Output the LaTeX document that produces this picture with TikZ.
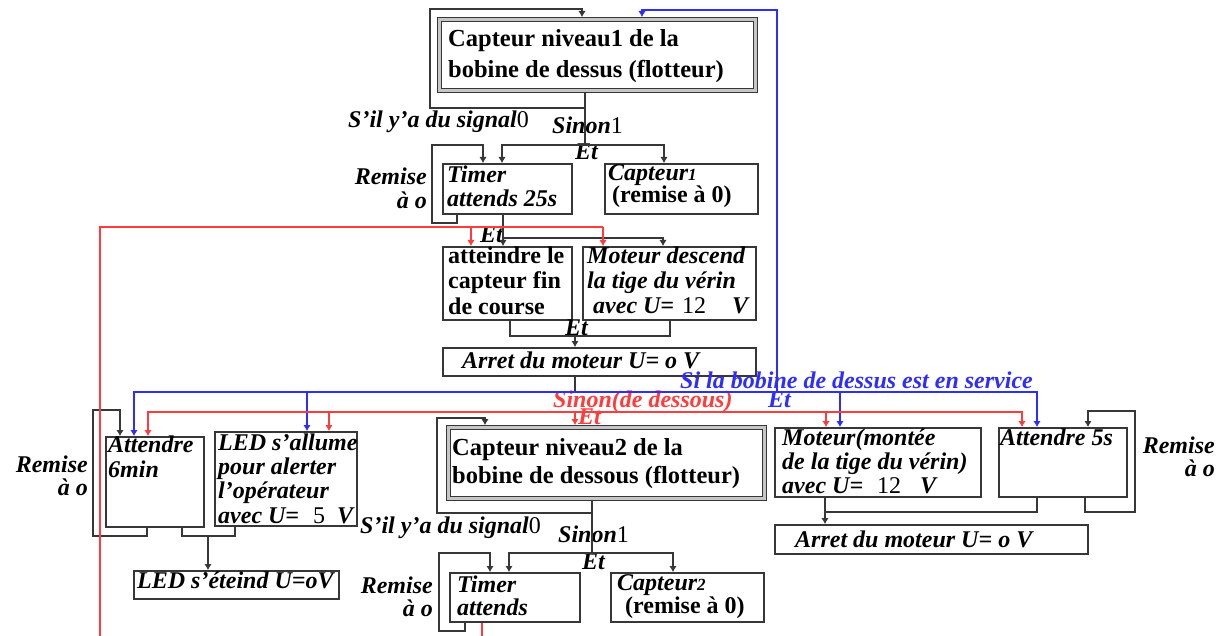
\documentclass[tikz,border=0pt]{standalone}
\usepackage{fontspec}
\setmainfont{Liberation Serif}
\usetikzlibrary{arrows.meta}
\definecolor{wire}{RGB}{55,55,55}
\definecolor{bl}{RGB}{45,45,255}
\definecolor{rd}{RGB}{255,60,60}
% small old-style-like digit and upright number inside italic text
\newcommand\osd[1]{{\fontsize{17}{17}\selectfont #1}}
\newcommand\num[1]{{\mdseries\upshape #1}}
% plain box from (x1,y1) to (x2,y2)
\newcommand\blk[5]{\node[box,minimum width=#4pt-#2pt,minimum height=#5pt-#3pt] (#1) at (#2,#3) {};}
\begin{document}
\begin{tikzpicture}[x=1pt,y=-1pt,
  box/.style={draw=wire,line width=1.8pt,anchor=north west,inner sep=0pt},
  dbox/.style={draw=wire,line width=1.2pt,double=gray!45,double distance=3pt,
    anchor=north west,inner sep=0pt,outer sep=2.7pt,minimum width=315.6pt,minimum height=70.6pt},
  lbl/.style={inner sep=0pt,anchor=base west,align=left},
  itb/.style={lbl,font=\bfseries\itshape\fontsize{24}{25}\selectfont},
  upb/.style={lbl,font=\bfseries\fontsize{24}{25}\selectfont},
  remark/.style={inner sep=0pt,anchor=base east,align=right,font=\bfseries\itshape\fontsize{24}{23.5}\selectfont},
  tip/.style={-{Latex[length=6pt,width=7.5pt]}},
  conn/.style={draw=wire,line width=1.7pt},
  arr/.style={conn,tip},
  bconn/.style={draw=bl,line width=1.7pt},
  barr/.style={bconn,tip},
  rconn/.style={draw=rd,line width=1.7pt},
  rarr/.style={rconn,tip},
]
\useasboundingbox (0,0) rectangle (1223,636);
\fill[white] (0,0) rectangle (1223,636);

% ---------- boxes ----------
\node[dbox] (c1) at (437,17) {};
\blk{t1}{442}{163}{571}{213}
\blk{cap1}{604}{163}{757}{213}
\blk{att}{442}{246}{571}{319}
\blk{mot1}{582}{246}{755}{319}
\blk{arr1}{442}{347}{755}{375}
\blk{a6}{105}{436}{203}{526}
\blk{led}{214}{431}{356}{525}
\node[dbox] (c2) at (446,425) {};
\blk{mot2}{774}{427}{980}{496}
\blk{a5}{998}{427}{1126}{496}
\blk{arr2}{774}{524}{1087}{553}
\blk{ledoff}{133}{570}{338}{598}
\blk{t2}{449}{572}{579}{621}
\blk{cap2}{610}{572}{763}{621}

% ---------- box texts (multi-line texts are placed by their last baseline) ----------
\node[upb,font=\bfseries\fontsize{24.5}{31}\selectfont] (c1t) at (448,78) {Capteur niveau1 de la\\bobine de dessus (flotteur)};
\node[itb,font=\bfseries\itshape\fontsize{24}{24}\selectfont] (t1t) at (447,207) {Timer\\attends 25s};
\node[itb,font=\bfseries\itshape\fontsize{24}{20}\selectfont] (cap1t) at (608,203) {Capteur\osd{1}\\\hspace*{4pt}\upshape(remise à 0)};
\node[upb,font=\bfseries\fontsize{24}{25.5}\selectfont] (attt) at (448,314) {atteindre le\\capteur fin\\de course};
\node[itb] (mot1t) at (587,313) {Moteur descend\\la tige du vérin\\\hspace*{6pt}avec U=\hspace*{8pt}\num{12}\hspace*{26pt}V};
\node[itb] (arr1t) at (462,368) {Arret du moteur U= o V};
\node[itb] (a6t) at (108,477) {Attendre\\6min};
\node[itb,font=\bfseries\itshape\fontsize{24}{24.3}\selectfont] (ledt) at (218,523) {LED s'allume\\pour alerter\\l'opérateur\\avec U=\hspace*{14pt}\num{5}\hspace*{12pt}V};
\node[upb,font=\bfseries\fontsize{24.5}{28}\selectfont] (c2t) at (452,483) {Capteur niveau2 de la\\bobine de dessous (flotteur)};
\node[itb,font=\bfseries\itshape\fontsize{24}{24}\selectfont] (mot2t) at (782,493) {Moteur(montée\\de la tige du vérin)\\avec U=\hspace*{14pt}\num{12}\hspace*{19pt}V};
\node[itb] (a5t) at (1000,445) {Attendre 5s};
\node[itb] (arr2t) at (795,547) {Arret du moteur U= o V};
\node[itb] (ledofft) at (137,588) {LED s'éteind U=oV};
\node[itb,font=\bfseries\itshape\fontsize{24}{23}\selectfont] (t2t) at (457,615) {Timer\\attends};
\node[itb,font=\bfseries\itshape\fontsize{24}{21}\selectfont] (cap2t) at (617,613) {Capteur\osd{2}\\\hspace*{8pt}\upshape(remise à 0)};

% ---------- branch labels ----------
\node[itb] (sig1) at (348,128) {S'il y'a du signal\num{0}};
\node[itb] (sin1) at (552,134) {Sinon\num{1}};
\node[itb] (et1) at (575,160) {Et};
\node[remark] (rem1) at (427,208.5) {Remise\\à o};
\node[itb] (et2) at (480,243) {Et};
\node[itb] (et3) at (565,335) {Et};
\node[itb,anchor=base east,text=bl] (si) at (1033,388) {Si la bobine de dessus est en service};
\node[itb,text=rd] (sinon2) at (553,407) {Sinon(de dessous)};
\node[itb,text=bl] (etb) at (768,407) {Et};
\node[itb,text=rd] (etr) at (578,424) {Et};
\node[remark] (rem2) at (88,495.5) {Remise\\à o};
\node[itb] (sig2) at (360,533) {S'il y'a du signal\num{0}};
\node[itb] (sin2) at (558,542) {Sinon\num{1}};
\node[itb] (et4) at (582,569) {Et};
\node[remark] (rem3) at (433,616.5) {Remise\\à o};
\node[remark] (rem4) at (1215,476.5) {Remise\\à o};

% ---------- black connectors ----------
% level-1 sensor: signal loop and "sinon" branch
\draw[arr] (c1.south -| 585,0) -- (585,108) -| (430,9) -| (c1.north -| 582,0);
\coordinate (j1) at (585,145);
\draw[conn] (c1.south -| j1) -- (j1);
\draw[arr] (j1) -| (t1.north -| 502,0);
\draw[arr] (j1) -| (cap1.north -| 664,0);
\draw[arr] (t1.south -| 457,0) |- (432,223) |- (483,145) -- (t1.north -| 483,0);
% timer 25s to the two parallel actions
\coordinate (j2) at (503,238);
\draw[conn] (t1.south -| j2) -- (j2);
\draw[arr] (j2) -- (att.north -| j2);
\draw[arr] (j2) -| (mot1.north -| 663,0);
\draw[conn] (att.south -| 510,0) |- (670,336) -- (mot1.south -| 670,0);
\draw[arr] (575,336) -- (arr1.north -| 575,0);
\draw[conn] (arr1.south -| 575,0) -- (575,392);
% level-2 sensor: signal loop and "sinon" branch
\draw[arr] (c2.south -| 592,0) -- (592,513) -| (437,418) -| (c2.north -| 485,0);
\coordinate (j3) at (592,553);
\draw[conn] (c2.south -| j3) -- (j3);
\draw[arr] (j3) -| (t2.north -| 509,0);
\draw[arr] (j3) -| (cap2.north -| 673,0);
\draw[arr] (t2.south -| 465,0) |- (439,631) |- (490,553) -- (t2.north -| 490,0);
% 6 min wait and LED
\draw[arr] (a6.south -| 147,0) |- (93,536) |- (120,410) -- (a6.north -| 120,0);
\draw[conn] (a6.south -| 182,0) |- (235,536) -- (led.south -| 235,0);
\draw[arr] (208,536) -- (ledoff.north -| 208,0);
% motor up and 5 s wait
\draw[conn] (mot2.south -| 825,0) |- (1037,512) -- (a5.south -| 1037,0);
\draw[arr] (825,512) -- (arr2.north -| 825,0);
\draw[arr] (a5.south -| 1085,0) |- (1135,512) |- (1088,411) -- (a5.north -| 1088,0);

% ---------- blue: upper coil in service ----------
\coordinate (bj) at (777,392);
\draw[barr] (bj) |- (642,10) -- (c1.north -| 642,0);
\draw[barr] (bj) -| (a6.north -| 134,0);
\draw[barr] (bj) -| (led.north -| 307,0);
\draw[barr] (bj) -| (mot2.north -| 840,0);
\draw[barr] (bj) -| (a5.north -| 1037,0);

% ---------- red: lower coil ----------
\draw[rconn] (t2.south -| 482,0) -- (482,650);
\draw[rconn] (100,650) -- (100,227) -- (603,227);
\draw[rarr] (471,227) -- (att.north -| 471,0);
\draw[rarr] (603,227) -- (mot1.north -| 603,0);
\coordinate (rj) at (575,412);
\draw[rarr] (rj) -- (c2.north -| rj);
\draw[rarr] (rj) -| (a6.north -| 148,0);
\draw[rarr] (rj) -| (led.north -| 329,0);
\draw[rarr] (rj) -| (mot2.north -| 826,0);
\draw[rarr] (rj) -| (a5.north -| 1022,0);
\end{tikzpicture}
\end{document}
